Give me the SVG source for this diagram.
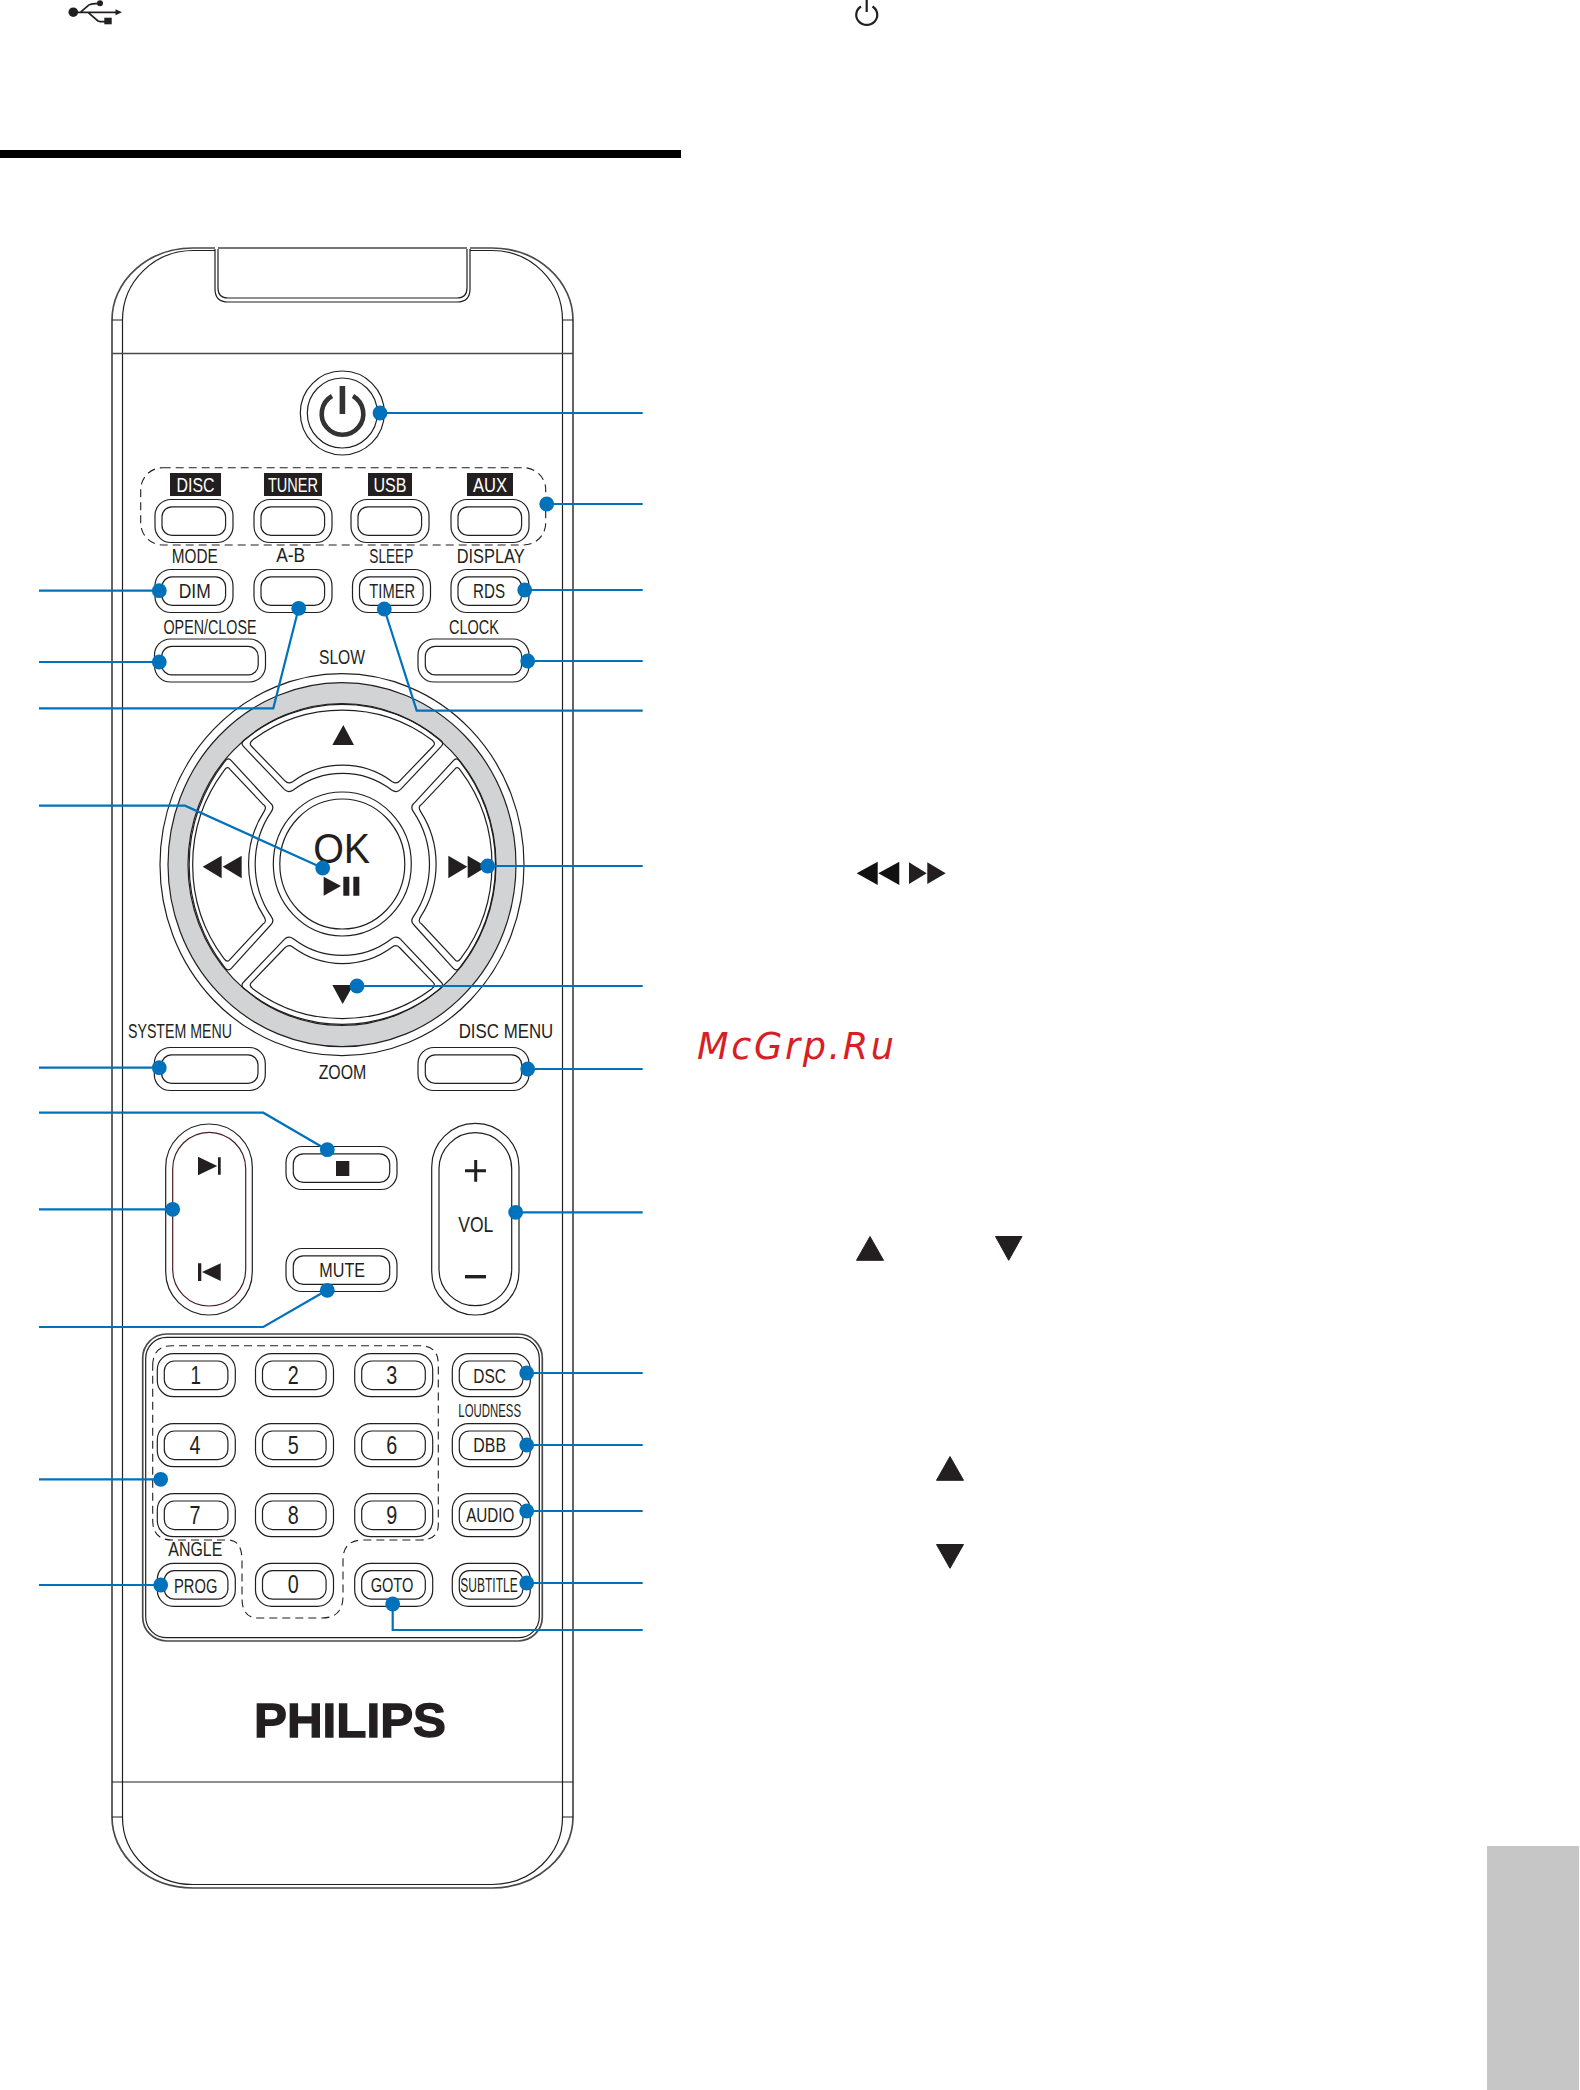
<svg xmlns="http://www.w3.org/2000/svg" width="1580" height="2090" viewBox="0 0 1580 2090">
<style>
.l{fill:none;stroke:#231f20;stroke-width:1.2}
.h{fill:none;stroke:#4a4a4a;stroke-width:1.7}
.d{fill:none;stroke:#231f20;stroke-width:1.1;stroke-dasharray:8 5}
.k{fill:#231f20}
.t{font-family:"Liberation Sans",Arial,sans-serif;font-size:20px;fill:#231f20;text-anchor:middle}
.c{fill:none;stroke:#0072bc;stroke-width:2.2}
.p{fill:#0072bc}
</style>
<defs>
<g id="b78"><rect class="l" width="78" height="43" rx="16"/><rect class="l" x="7" y="7.3" width="63.6" height="28.6" rx="10"/></g>
<g id="b111"><rect class="l" width="111" height="43" rx="16"/><rect class="l" x="7.3" y="7.3" width="96.4" height="28.6" rx="10"/></g>
<path id="dpad-tb" d="M283 240A457 457 0 0 1 871 240Q884 250 873 260L752 388Q740 400 725 390A242 242 0 0 0 430 390Q415 400 403 388L281 260Q270 250 283 240ZM308 240A448 448 0 0 1 846 240Q858 250 850 258L750 362Q740 374 727 365A250 250 0 0 0 428 365Q415 374 404 362L304 258Q296 250 308 240Z"/>
<path id="dpad-r" d="M930 305A500 500 0 0 1 930 922Q920 936 910 925L792 795Q780 785 790 770A280 280 0 0 0 790 455Q780 440 792 430L910 302Q920 290 930 305ZM932 332A470 470 0 0 1 932 896Q922 910 914 898L815 792Q802 785 812 770A291 291 0 0 0 812 455Q802 440 815 433L914 328Q922 316 932 332Z"/>
</defs>
<rect width="1580" height="2090" fill="#fff"/>
<rect x="0" y="150" width="681" height="8" fill="#000"/>
<rect x="1487" y="1846" width="92" height="244" fill="#c6c6c6"/>
<g id="usb-icon">
<circle class="k" cx="73.3" cy="12.2" r="4.8"/>
<path fill="none" stroke="#231f20" stroke-width="1.7" d="M73 12.3H118M80 12.7L89 5Q90.5 3.5 100 3.3M88 12.3L98 21Q99 21.7 105 21.7"/>
<path class="k" d="M115.5 9.3L122 12.3L115.5 15.3Z"/><circle class="k" cx="100" cy="3.3" r="3"/><rect class="k" x="104.3" y="17.7" width="7.4" height="6.6"/>
</g>
<g id="power-icon-small"><path fill="none" stroke="#231f20" stroke-width="2.2" d="M861 6.5A10.5 10 0 1 0 872.5 6.5M866.7 0V12"/></g>
<g id="arrows-text" class="k">
<path d="M856.7 873.3L877.7 861.7V885ZM878.3 873.3L899.3 861.7V885Z" fill="#111"/>
<path d="M909 862.3L926.7 873.3L909 884ZM927.3 862.3L945.7 873.3L927.3 884Z"/>
<path stroke="#231f20" stroke-linejoin="round" d="M870 1236.5L883.5 1260.3H856.5ZM995.5 1236.5H1022L1008.7 1260.3ZM950 1456.5L963.5 1480.3H936.5ZM936.5 1544.5H963.5L950 1568.3Z"/>
</g>
<text id="watermark" x="697" y="1059.3" textLength="197" style="font-family:'DejaVu Sans',sans-serif;font-style:italic;font-size:36.6px;fill:#d81e26">McGrp.Ru</text>

<g id="remote-body">
<path class="h" d="M193 248A81 72 0 0 0 112 320V1817A81 71 0 0 0 193 1888H492A81 71 0 0 0 573 1817V320A81 72 0 0 0 492 248H470M215 248H193M218 248H467"/>
<path class="l" d="M193 250.5A70.5 69.5 0 0 0 122.5 320V1817A70.5 67 0 0 0 193 1884.5H492A70.5 67 0 0 0 562.5 1817V320A70.5 69.5 0 0 0 492 250.5H470M215 250.5H193M112 320H122.5M562.5 320H573M112 1817H122.5M562.5 1817H573"/>
<path class="l" d="M215 249V289Q215 302 228 302H457Q470 302 470 289V249M218 249V288Q218 298 228 298H457Q467 298 467 288V249"/>
<path class="h" d="M112 353.5H573"/><path class="l" d="M112 1782H573"/>
<text class="t" x="350" y="1736.7" textLength="192" lengthAdjust="spacingAndGlyphs" style="font-size:49px;font-weight:700;stroke:#231f20;stroke-width:1.3">PHILIPS</text>
</g>

<g id="power"><circle class="l" cx="342.3" cy="413" r="42"/><circle class="l" cx="342.3" cy="413" r="35"/>
<path fill="none" stroke="#333" stroke-width="4.6" d="M332 396A20.8 20.8 0 1 0 353 396"/><rect x="339.6" y="386" width="5.6" height="28" fill="#333"/></g>

<g id="source-group"><rect class="d" x="140.7" y="467.7" width="405" height="77.3" rx="22"/></g>
<g id="disc"><use href="#b78" x="155" y="499.5"/><rect class="k" x="170" y="473" width="51" height="23"/><text class="t" x="195.5" y="491.5" textLength="38" lengthAdjust="spacingAndGlyphs" style="fill:#fff">DISC</text></g>
<g id="tuner"><use href="#b78" x="254" y="499.5"/><rect class="k" x="264" y="473" width="58" height="23"/><text class="t" x="293" y="491.5" textLength="50" lengthAdjust="spacingAndGlyphs" style="fill:#fff">TUNER</text></g>
<g id="usb"><use href="#b78" x="351" y="499.5"/><rect class="k" x="368" y="473" width="44" height="23"/><text class="t" x="390" y="491.5" textLength="33" lengthAdjust="spacingAndGlyphs" style="fill:#fff">USB</text></g>
<g id="aux"><use href="#b78" x="451" y="499.5"/><rect class="k" x="467" y="473" width="46" height="23"/><text class="t" x="490" y="491.5" textLength="34" lengthAdjust="spacingAndGlyphs" style="fill:#fff">AUX</text></g>

<g id="dim"><use href="#b78" x="155" y="569.5"/><text class="t" x="194.7" y="562.7" textLength="46" lengthAdjust="spacingAndGlyphs">MODE</text><text class="t" x="194.7" y="597.7" textLength="32" lengthAdjust="spacingAndGlyphs">DIM</text></g>
<g id="ab"><use href="#b78" x="254" y="569.5"/><text class="t" x="290.7" y="562" textLength="29" lengthAdjust="spacingAndGlyphs">A-B</text></g>
<g id="timer"><use href="#b78" x="352.5" y="569.5"/><text class="t" x="391.3" y="562.7" textLength="44" lengthAdjust="spacingAndGlyphs">SLEEP</text><text class="t" x="392.2" y="597.7" textLength="45.7" lengthAdjust="spacingAndGlyphs">TIMER</text></g>
<g id="rds"><use href="#b78" x="451" y="569.5"/><text class="t" x="490.7" y="562.7" textLength="68" lengthAdjust="spacingAndGlyphs">DISPLAY</text><text class="t" x="489" y="597.7" textLength="32" lengthAdjust="spacingAndGlyphs">RDS</text></g>
<g id="open-close"><use href="#b111" x="154.5" y="639"/><text class="t" x="210" y="634" textLength="93" lengthAdjust="spacingAndGlyphs">OPEN/CLOSE</text></g>
<g id="clock"><use href="#b111" x="418" y="639"/><text class="t" x="474" y="634" textLength="50" lengthAdjust="spacingAndGlyphs">CLOCK</text></g>

<g id="dial">
<text class="t" x="342" y="664" textLength="46" lengthAdjust="spacingAndGlyphs">SLOW</text>
<ellipse class="l" cx="342" cy="864.7" rx="182" ry="191"/>
<ellipse cx="342" cy="864.7" rx="174" ry="182" fill="#d1d3d4" stroke="#231f20" stroke-width="1.2"/>
<ellipse cx="342" cy="864.5" rx="154" ry="161" fill="#fff" stroke="#231f20" stroke-width="1.2"/>
<g transform="translate(150 660) scale(.33333)">
<use href="#dpad-tb" class="l" style="stroke-width:3.6"/>
<use href="#dpad-tb" class="l" style="stroke-width:3.6" transform="matrix(1 0 0 -1 0 1226)"/>
<use href="#dpad-r" class="l" style="stroke-width:3.6"/>
<use href="#dpad-r" class="l" style="stroke-width:3.6" transform="matrix(-1 0 0 1 1154 0)"/>
<path class="k" d="M547 255L580 195L612 255ZM547 975H610L578 1032ZM158 620L215 587V655ZM218 620L275 587V655ZM895 587L952 620L895 655ZM953 587L1010 620L953 655ZM521 650L573 678L521 707ZM580 650H598V707H580ZM610 650H628V707H610Z"/>
</g>
<ellipse class="l" cx="342.3" cy="864" rx="69" ry="72"/>
<ellipse class="l" cx="342.3" cy="864" rx="62.5" ry="65"/>
<text class="t" x="341.7" y="863.3" textLength="57" lengthAdjust="spacingAndGlyphs" style="font-size:42px">OK</text>
<text class="t" x="342.5" y="1079" textLength="47.7" lengthAdjust="spacingAndGlyphs">ZOOM</text>
</g>

<g id="system-menu"><use href="#b111" x="154.3" y="1047.5"/><text class="t" x="180" y="1038.3" textLength="104" lengthAdjust="spacingAndGlyphs">SYSTEM MENU</text></g>
<g id="disc-menu"><use href="#b111" x="418" y="1047.5"/><text class="t" x="506" y="1038.3" textLength="94.6" lengthAdjust="spacingAndGlyphs">DISC MENU</text></g>

<g id="skip"><rect class="l" x="165.7" y="1124" width="86.6" height="191" rx="43.3"/><rect x="172.7" y="1132.3" width="73" height="173.7" rx="36.5" fill="none" stroke="#4a1f24" stroke-width="1.2"/>
<path class="k" d="M198 1156.7L217.3 1166L198 1175.3ZM218 1157.3H220.7V1174.7H218ZM198 1263.3H201.3V1281H198ZM220.7 1263.3V1281L202 1272Z"/></g>
<g id="stop"><use href="#b111" x="286" y="1146.5"/><rect class="k" x="336" y="1161" width="13.3" height="15"/></g>
<g id="mute"><use href="#b111" x="286" y="1248.5"/><text class="t" x="342.2" y="1277.3" textLength="45.7" lengthAdjust="spacingAndGlyphs">MUTE</text></g>
<g id="vol"><rect class="l" x="431.7" y="1123.3" width="87.3" height="191.7" rx="43.6"/><rect class="l" x="439" y="1132.7" width="72.7" height="173" rx="36.3"/>
<path fill="none" stroke="#231f20" stroke-width="3" d="M465 1170.7H486M475.7 1160V1181.7"/><path fill="none" stroke="#231f20" stroke-width="3.4" d="M465 1276.7H486"/>
<text class="t" x="475.8" y="1232.3" textLength="35" lengthAdjust="spacingAndGlyphs" style="font-size:21.5px">VOL</text></g>

<g id="keypad-panel"><rect class="h" x="142.7" y="1334" width="399.6" height="307" rx="24"/><rect class="l" x="145.7" y="1337.3" width="393.6" height="300.4" rx="21"/></g>
<g id="digits-group"><path class="d" d="M152.7 1366Q152.7 1345.7 172 1345.7H420Q438.3 1345.7 438.3 1364V1525Q438.3 1540 420 1540H363Q343 1540 343 1560V1596Q343 1618 322 1618H258Q242 1618 242 1598V1560Q242 1540 228 1540H172Q152.7 1540 152.7 1520Z"/></g>

<g id="key-1"><use href="#b78" x="157.3" y="1353.7"/><text class="t" x="195.7" y="1384.3" textLength="10.5" lengthAdjust="spacingAndGlyphs" style="font-size:25px">1</text></g>
<g id="key-2"><use href="#b78" x="255.5" y="1353.7"/><text class="t" x="293.3" y="1384.3" textLength="11" lengthAdjust="spacingAndGlyphs" style="font-size:25px">2</text></g>
<g id="key-3"><use href="#b78" x="354.7" y="1353.7"/><text class="t" x="391.7" y="1384.3" textLength="11" lengthAdjust="spacingAndGlyphs" style="font-size:25px">3</text></g>
<g id="key-4"><use href="#b78" x="157.3" y="1423.7"/><text class="t" x="195" y="1454" textLength="11" lengthAdjust="spacingAndGlyphs" style="font-size:25px">4</text></g>
<g id="key-5"><use href="#b78" x="255.5" y="1423.7"/><text class="t" x="293.3" y="1454" textLength="11" lengthAdjust="spacingAndGlyphs" style="font-size:25px">5</text></g>
<g id="key-6"><use href="#b78" x="354.7" y="1423.7"/><text class="t" x="391.7" y="1454" textLength="11" lengthAdjust="spacingAndGlyphs" style="font-size:25px">6</text></g>
<g id="key-7"><use href="#b78" x="157.3" y="1493.7"/><text class="t" x="195" y="1524" textLength="11" lengthAdjust="spacingAndGlyphs" style="font-size:25px">7</text></g>
<g id="key-8"><use href="#b78" x="255.5" y="1493.7"/><text class="t" x="293.3" y="1524" textLength="11" lengthAdjust="spacingAndGlyphs" style="font-size:25px">8</text></g>
<g id="key-9"><use href="#b78" x="354.7" y="1493.7"/><text class="t" x="391.7" y="1524" textLength="11" lengthAdjust="spacingAndGlyphs" style="font-size:25px">9</text></g>
<g id="key-0"><use href="#b78" x="255.5" y="1563.3"/><text class="t" x="293.3" y="1592.7" textLength="11" lengthAdjust="spacingAndGlyphs" style="font-size:25px">0</text></g>
<g id="prog"><use href="#b78" x="157.3" y="1563.3"/><text class="t" x="195.3" y="1555.7" textLength="54" lengthAdjust="spacingAndGlyphs" style="font-size:19.5px">ANGLE</text><text class="t" x="195.7" y="1592.7" textLength="43.3" lengthAdjust="spacingAndGlyphs">PROG</text></g>
<g id="goto"><use href="#b78" x="354.7" y="1563.3"/><text class="t" x="392" y="1592.3" textLength="42.7" lengthAdjust="spacingAndGlyphs">GOTO</text></g>
<g id="dsc"><use href="#b78" x="452.3" y="1353.7"/><text class="t" x="489.7" y="1382.7" textLength="32.7" lengthAdjust="spacingAndGlyphs">DSC</text></g>
<g id="dbb"><use href="#b78" x="452.3" y="1423.7"/><text class="t" x="489.7" y="1416.7" textLength="62.7" lengthAdjust="spacingAndGlyphs" style="font-size:19px">LOUDNESS</text><text class="t" x="489.7" y="1452.3" textLength="32.7" lengthAdjust="spacingAndGlyphs">DBB</text></g>
<g id="audio"><use href="#b78" x="452.3" y="1493.7"/><text class="t" x="490.3" y="1522.3" textLength="48.3" lengthAdjust="spacingAndGlyphs">AUDIO</text></g>
<g id="subtitle"><use href="#b78" x="452.3" y="1563.3"/><text class="t" x="489" y="1591.7" textLength="57.3" lengthAdjust="spacingAndGlyphs" style="font-size:19.5px">SUBTITLE</text></g>

<g id="connectors">
<g class="c">
<path d="M39 590.7H159M39 662H159M39 708.3H273.3L298.7 608M39 805.7H185L322.7 868M39 1067.7H159M39 1112.7H263.3L327.3 1150M39 1209.3H172M39 1327H263.3L327.3 1290M39 1479.3H160M39 1585H160"/>
<path d="M380 413H642.7M546.7 504H642.7M524.7 590H642.7M527.7 661H642.7M384.3 609L416.7 710.7H642.7M487.7 866H642.7M357 986H642.7M527.7 1069H642.7M515.7 1212.3H642.7M526.7 1373H642.7M526.7 1445H642.7M526.7 1511H642.7M526.7 1583H642.7M392.7 1604V1630H642.7"/>
</g>
<g class="p">
<circle cx="380" cy="413" r="7.4"/><circle cx="546.7" cy="504" r="7.4"/><circle cx="159.3" cy="590.7" r="7.4"/><circle cx="524.7" cy="590" r="7.4"/><circle cx="159.3" cy="662" r="7.4"/><circle cx="527.7" cy="661" r="7.4"/><circle cx="298.7" cy="608.3" r="7.4"/><circle cx="384.3" cy="609" r="7.4"/><circle cx="322.7" cy="868" r="7.4"/><circle cx="487.7" cy="866" r="7.4"/><circle cx="357" cy="986" r="7.4"/><circle cx="159.3" cy="1067.7" r="7.4"/><circle cx="527.7" cy="1069" r="7.4"/><circle cx="327.3" cy="1149.7" r="7.4"/><circle cx="172.7" cy="1209.3" r="7.4"/><circle cx="515.7" cy="1212.3" r="7.4"/><circle cx="327.3" cy="1290.3" r="7.4"/><circle cx="160.7" cy="1479.3" r="7.4"/><circle cx="160.7" cy="1585" r="7.4"/><circle cx="526.7" cy="1373" r="7.4"/><circle cx="526.7" cy="1445" r="7.4"/><circle cx="526.7" cy="1511" r="7.4"/><circle cx="526.7" cy="1583" r="7.4"/><circle cx="392.7" cy="1604" r="7.4"/>
</g>
</g>
</svg>
